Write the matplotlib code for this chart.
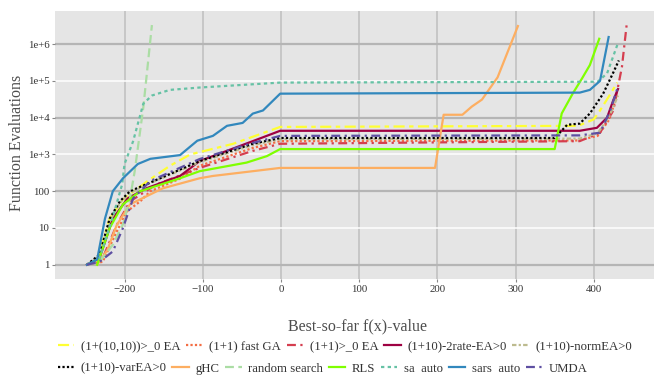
import numpy as np
import matplotlib.pyplot as plt

plt.rcParams['font.family'] = ['Liberation Serif', 'DejaVu Serif']

# 各算法曲线: x = best-so-far f(x), y = function evaluations
names = ['(1+(10,10))>_0 EA', '(1+1) fast GA', '(1+1)>_0 EA', '(1+10)-2rate-EA>0',
         '(1+10)-normEA>0', '(1+10)-varEA>0', 'gHC', 'random search', 'RLS',
         'sa  auto', 'sars  auto', 'UMDA']

x_yellow = [-248, -235, -219, -202, -172, -142, -116, -61, -1, 380, 400, 408, 420, 430]
y_yellow = [1, 1.3, 18, 60, 180, 490, 1000, 1950, 5600, 6000, 9000, 15700, 40000, 90000]

x_fastga = [-248, -228, -210, -197, -180, -167, -129, -104, -36, -1, 380, 405, 420, 430]
y_fastga = [1, 1.2, 8, 28, 53, 100, 220, 490, 1500, 2300, 2400, 3200, 9000, 45000]

x_red = [-248, -228, -210, -193, -160, -104, -36, -1, 382, 408, 425, 436, 442]
y_red = [1, 1.5, 12, 53, 150, 430, 1250, 1950, 2300, 3900, 15700, 240000, 3.3e6]

x_2rate = [-248, -232, -215, -196, -172, -129, -104, -36, -1, 382, 404, 417, 425, 431]
y_2rate = [1, 1.5, 18, 64, 120, 260, 660, 2300, 4400, 4400, 5300, 10000, 30000, 60000]

x_norm = [-248, -232, -219, -206, -193, -172, -104, -36, -1, 382, 405, 420, 431]
y_norm = [1, 1.7, 15, 48, 90, 150, 620, 1800, 2600, 2700, 3800, 11000, 40000]

x_var = [-248, -232, -219, -206, -193, -172, -104, -36, -1, 350, 366, 382, 395, 412, 425, 432]
y_var = [1, 1.9, 18, 53, 100, 155, 660, 1950, 2800, 2800, 6400, 6900, 13000, 45000, 170000, 360000]

x_ghc = [-235, -222, -210, -193, -151, -104, -87, -1, 197, 208, 232, 244, 257, 277, 303]
y_ghc = [1, 2.5, 12, 44, 120, 225, 260, 430, 430, 12000, 12000, 20000, 31000, 125000, 3.1e6]

x_rand = [-248, -232, -215, -202, -193, -187, -176, -165]
y_rand = [1, 1.2, 3.5, 12.5, 64, 350, 19000, 3.3e6]

x_rls = [-235, -219, -202, -180, -129, -104, -44, -18, -1, 350, 359, 373, 385, 395, 407]
y_rls = [1, 10, 44, 100, 225, 350, 600, 900, 1400, 1400, 13000, 45000, 117000, 270000, 1.4e6]

x_sa = [-248, -232, -215, -203, -200, -189, -176, -165, -142, -104, -1, 405, 417, 431]
y_sa = [1, 1.5, 20, 155, 550, 2300, 24000, 40000, 57000, 66000, 90000, 95000, 160000, 1.08e6]

x_sars = [-248, -235, -225, -215, -202, -183, -167, -129, -107, -87, -69, -49, -36, -23, -1, 382, 395, 408, 419]
y_sars = [1, 1.4, 18, 100, 225, 550, 760, 960, 2360, 3200, 6000, 7200, 12900, 15700, 45000, 48000, 57000, 100000, 1.56e6]

x_umda = [-248, -232, -215, -202, -189, -167, -104, -40, -1, 382, 408, 421, 431]
y_umda = [1, 1.2, 2.3, 10, 64, 190, 750, 1950, 3200, 3300, 3900, 15700, 70000]

xs = [x_yellow, x_fastga, x_red, x_2rate, x_norm, x_var, x_ghc, x_rand, x_rls, x_sa, x_sars, x_umda]
ys = [y_yellow, y_fastga, y_red, y_2rate, y_norm, y_var, y_ghc, y_rand, y_rls, y_sa, y_sars, y_umda]

colors = ['#FFFF33', '#F46D43', '#D53E4F', '#9E0142', '#BDBB8F', '#000000',
          '#FDAE61', '#ABDDA4', '#7FFF00', '#66C2A5', '#3288BD', '#5E4FA2']
styles = [(0, (5, 2, 2, 2)), (0, (1, 1)), (0, (4, 2, 1, 2)), '-',
          (0, (2, 1, 1, 1)), (0, (1, 1)), '-', (0, (4, 2)), '-',
          (0, (1.5, 1.5)), '-', (0, (4, 2, 1, 2))]

fig = plt.figure(figsize=(6.54, 3.77), dpi=100)
ax = fig.add_axes([0.084, 0.26, 0.916, 0.711])
ax.set_facecolor('#E5E5E5')
ax.set_yscale('log')
ax.set_xlim(-289, 477)
ax.set_ylim(0.41, 8e6)

# 网格线 (灰/白交替)
for xv in [-200, -100, 0, 100, 200, 300, 400]:
    ax.axvline(xv, color='#c4c4c4', lw=1.3, zorder=0)
for k in range(7):
    c = '#b5b5b5' if k % 2 == 0 else 'white'
    ax.axhline(10.0 ** k, color=c, lw=1.6 if k % 2 == 0 else 1.1, zorder=0)

lines = []
for x, y, c, s, n in zip(xs, ys, colors, styles, names):
    ln, = ax.plot(x, y, color=c, ls=s, lw=1.6, label=n)
    lines.append(ln)

for sp in ax.spines.values():
    sp.set_visible(False)
ax.set_xticks([-200, -100, 0, 100, 200, 300, 400])
ax.set_xticklabels(['\u2212200', '\u2212100', '0', '100', '200', '300', '400'])
ax.set_yticks([10.0 ** k for k in range(7)])
ax.set_yticklabels(['1', '10', '100', '1e+3', '1e+4', '1e+5', '1e+6'])
ax.minorticks_off()
ax.tick_params(axis='both', labelsize=7.8, colors='#888888', labelcolor='#333333',
               length=2.5, width=0.8, pad=1.5)

fig.text(0.026, 0.62, 'Function Evaluations', rotation=90, ha='center', va='center',
         fontsize=11.5, color='#4d4d4d')
fig.text(0.547, 0.133, 'Best-so-far f(x)-value', ha='center', va='center',
         fontsize=11.5, color='#4d4d4d')

leg_kw = dict(frameon=False, fontsize=9.2, handlelength=1.3, handletextpad=0.5,
              columnspacing=0.45, borderpad=0, borderaxespad=0)
leg1 = fig.legend(handles=lines[:5], loc='center left', bbox_to_anchor=(0.088, 0.08),
                  ncol=5, **leg_kw)
leg2 = fig.legend(handles=lines[5:], loc='center left', bbox_to_anchor=(0.088, 0.022),
                  ncol=7, **leg_kw)
for t in leg1.get_texts() + leg2.get_texts():
    t.set_color('#333333')

fig.savefig('out.png', dpi=100)
